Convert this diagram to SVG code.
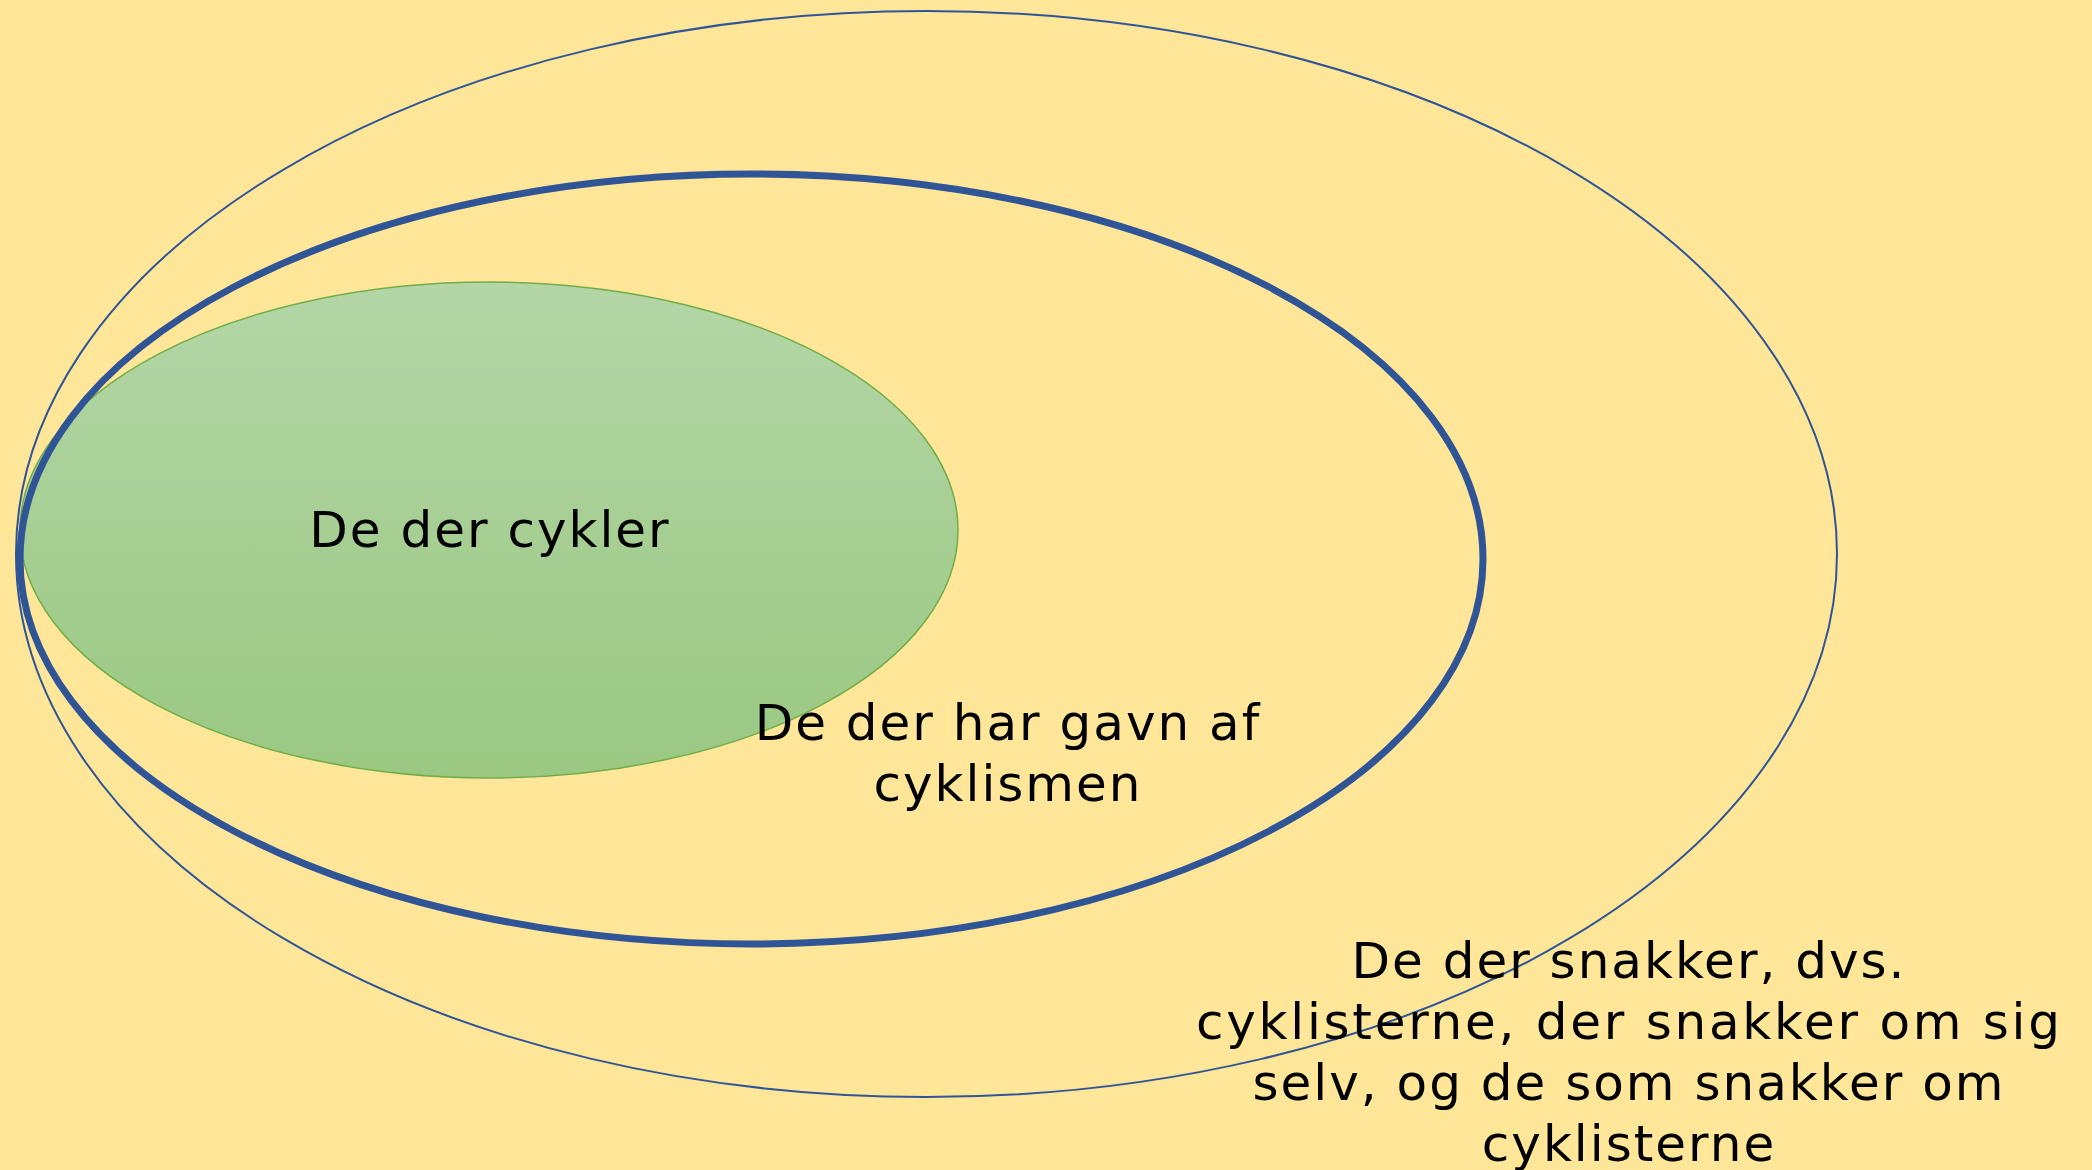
<svg xmlns="http://www.w3.org/2000/svg" width="2092" height="1170" viewBox="0 0 2092 1170">
<style>
.lbl{font-family:"DejaVu Sans","Verdana",sans-serif;font-size:50px;letter-spacing:2px;fill:#000;text-anchor:middle}
.blue{fill:none;stroke:#2F5597}
</style>
<defs>
<linearGradient id="g" x1="0" y1="0" x2="0" y2="1">
<stop offset="0" stop-color="#B4D6A7"/>
<stop offset="1" stop-color="#9AC882"/>
</linearGradient>
</defs>
<rect width="2092" height="1170" fill="#FFE699"/>
<g id="outer">
<ellipse class="blue" cx="926.5" cy="554" rx="910.5" ry="543" stroke-width="2"/>
</g>
<g id="green">
<ellipse cx="489" cy="530" rx="469" ry="248" fill="url(#g)" stroke="#70AD47" stroke-width="1.5"/>
<text class="lbl" x="490" y="547">De der cykler</text>
</g>
<g id="middle">
<ellipse class="blue" cx="751.5" cy="559" rx="731.5" ry="385" stroke-width="7"/>
<text class="lbl" x="1008" y="740">De der har gavn af</text>
<text class="lbl" x="1008" y="801">cyklismen</text>
</g>
<g id="outer-label">
<text class="lbl" x="1629" y="978">De der snakker, dvs.</text>
<text class="lbl" x="1629" y="1039" textLength="866" lengthAdjust="spacing">cyklisterne, der snakker om sig</text>
<text class="lbl" x="1629" y="1100">selv, og de som snakker om</text>
<text class="lbl" x="1629" y="1161">cyklisterne</text>
</g>
<g id="connectors"/>
</svg>
